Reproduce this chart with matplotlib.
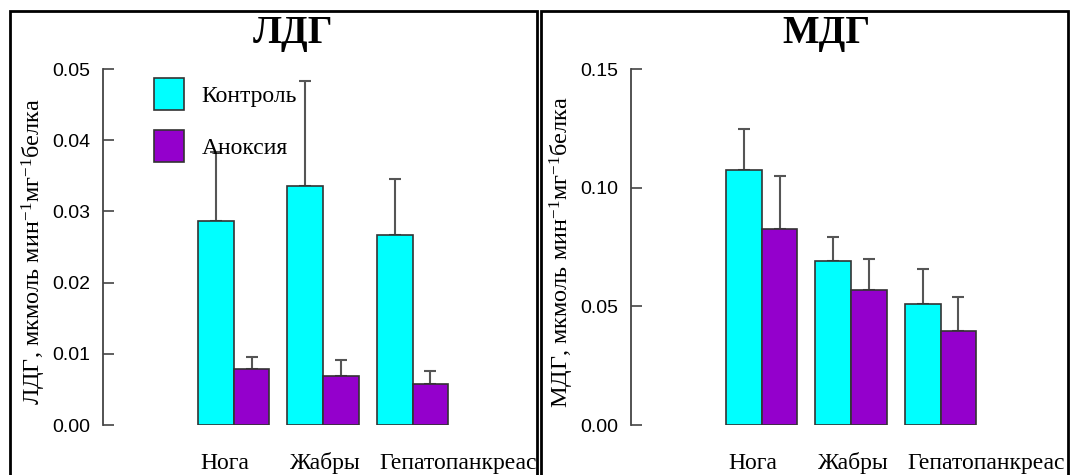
import numpy as np
import matplotlib
matplotlib.use('Agg')
import matplotlib.pyplot as plt
from matplotlib.patches import Rectangle
from matplotlib.transforms import Bbox, TransformedBbox

plt.rcParams['mathtext.fontset'] = 'custom'
plt.rcParams['mathtext.rm'] = 'Liberation Serif'
plt.rcParams['mathtext.it'] = 'Liberation Serif'

tissues = ['Нога', 'Жабры', 'Гепатопанкреас']
groups = ['Контроль', 'Аноксия']

# ЛДГ
ldh_control = [0.0287, 0.0335, 0.0267]
ldh_control_err = [0.0096, 0.0148, 0.0079]
ldh_anoxia = [0.0078, 0.0069, 0.0058]
ldh_anoxia_err = [0.0018, 0.0022, 0.0018]

# МДГ
mdh_control = [0.1073, 0.0690, 0.0509]
mdh_control_err = [0.0174, 0.0103, 0.0147]
mdh_anoxia = [0.0827, 0.0570, 0.0396]
mdh_anoxia_err = [0.0221, 0.0131, 0.0144]

cyan = '#00FFFF'
purple = '#9400CC'
W, H = 1070, 475
AX_BOTTOM, AX_TOP = 425, 69   # pixel rows of y=0 and y=max

fig = plt.figure(figsize=(W / 100, H / 100), dpi=100)

serif = 'Liberation Serif'


def panel(left_px, title, title_x, ylabel, ctrl, ctrl_err, anox, anox_err, ymax, ticks, clip_right):
    ax = fig.add_axes([left_px / W, (H - AX_BOTTOM) / H, 382 / W, (AX_BOTTOM - AX_TOP) / H])
    x = np.arange(len(tissues))
    w = 0.4
    ax.bar(x - w / 2, ctrl, w, color=cyan, edgecolor='#333333', linewidth=1.2,
           label=groups[0], zorder=2)
    ax.bar(x + w / 2, anox, w, color=purple, edgecolor='#333333', linewidth=1.2,
           label=groups[1], zorder=2)
    ax.errorbar(x - w / 2, ctrl, yerr=[np.zeros(3), ctrl_err], fmt='none',
                ecolor='#555555', elinewidth=1.5, capsize=4.5, capthick=1.5, zorder=1)
    ax.errorbar(x + w / 2, anox, yerr=[np.zeros(3), anox_err], fmt='none',
                ecolor='#555555', elinewidth=1.5, capsize=4.5, capthick=1.5, zorder=1)
    ax.set_xlim(-1.46, 2.81)
    ax.set_ylim(0, ymax)
    ax.set_yticks(ticks)
    ax.set_yticklabels(['%.2f' % t for t in ticks], family='Liberation Sans')
    for s in ['top', 'right', 'bottom']:
        ax.spines[s].set_visible(False)
    ax.spines['left'].set_color('#444444')
    ax.spines['left'].set_linewidth(1.3)
    ax.tick_params(axis='y', direction='in', length=8, width=1.2, color='#444444',
                   pad=9, labelsize=14)
    ax.set_xticks([])
    ax.patch.set_alpha(0)
    clip = TransformedBbox(Bbox([[0, 0], [clip_right / W, 1]]), fig.transFigure)
    for i, name in enumerate(tissues):
        t = ax.text(i - 0.37, (AX_BOTTOM - 469) / (AX_BOTTOM - AX_TOP), name,
                    transform=ax.get_xaxis_transform(),
                    ha='left', va='baseline', fontsize=17, family=serif, clip_on=False)
        t.set_clip_box(clip)
        t.set_clip_on(True)
    fig.text(title_x / W, 1 - 34 / H, title, ha='center', va='center',
             fontsize=28, fontweight='bold', family=serif)
    fig.text((left_px - 69) / W, 1 - 252 / H, ylabel, rotation=90, ha='center',
             va='center', fontsize=17.5, family=serif)
    return ax


ax1 = panel(103, 'ЛДГ', 293, r'ЛДГ, мкмоль мин$^{-1}$мг$^{-1}$белка',
            ldh_control, ldh_control_err, ldh_anoxia, ldh_anoxia_err,
            0.05, [0, 0.01, 0.02, 0.03, 0.04, 0.05], 537)
ax2 = panel(631, 'МДГ', 826, r'МДГ, мкмоль мин$^{-1}$мг$^{-1}$белка',
            mdh_control, mdh_control_err, mdh_anoxia, mdh_anoxia_err,
            0.15, [0, 0.05, 0.10, 0.15], W)

ax1.legend(loc='upper left', bbox_to_anchor=(154 / W, 1 - 78 / H),
           bbox_transform=fig.transFigure, frameon=False, borderpad=0,
           borderaxespad=0, handlelength=1.27, handleheight=1.71,
           labelspacing=0.85, handletextpad=0.75,
           prop={'family': serif, 'size': 17})

# panel frames
for x0, x1 in [(10, 537), (541, 1068)]:
    fig.add_artist(Rectangle((x0 / W, -0.05), (x1 - x0) / W, 1.05 - 11 / H,
                             transform=fig.transFigure, fill=False,
                             edgecolor='black', linewidth=2, zorder=10))

fig.savefig('out.png', dpi=100)
